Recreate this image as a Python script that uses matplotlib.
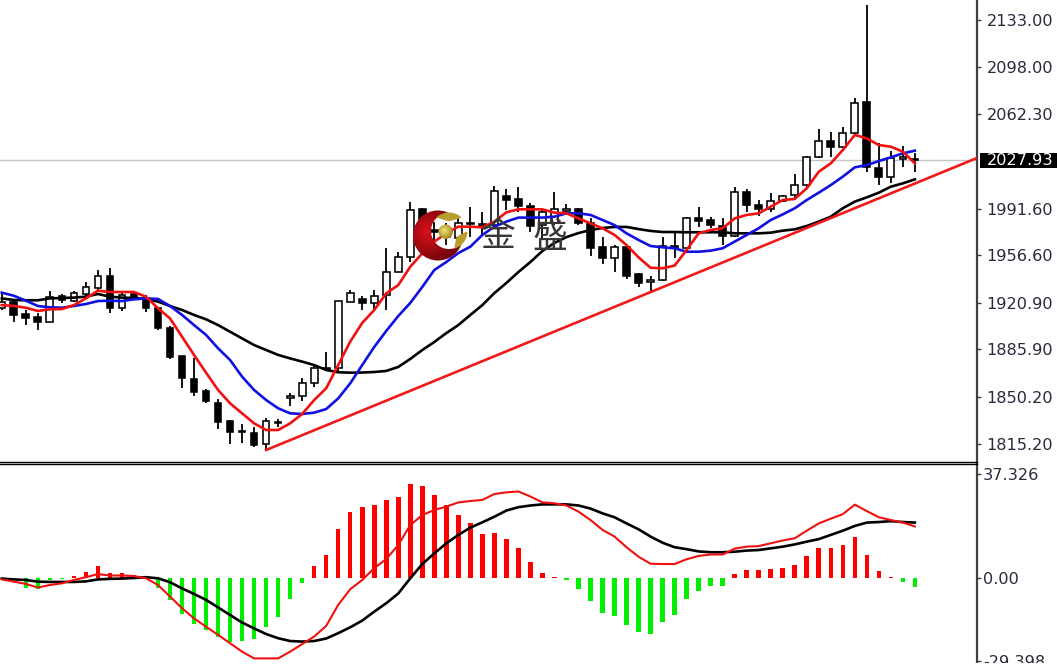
import numpy as np
import matplotlib
matplotlib.use("Agg")
import matplotlib.pyplot as plt
from matplotlib.patches import Rectangle

W, H = 1057, 669

highs = [1929.2,1923,1915.5,1913,1929.8,1927.2,1930,1936.8,1945.5,1946.8,1928,1928,1926.8,1918,1903.5,1881.2,1879.2,1856,1848.8,1833,
         1830,1827.5,1834.2,1833.8,1853.5,1864.2,1874.8,1884.2,1922.2,1930.5,1926,1930.5,1961.8,1958.8,1996.2,1991.8,1981.8,1980.5,1986.2,1993,
         1989.2,2008.8,2006,2007.5,1995.5,1990.5,2003.8,1994.8,1992.2,1984.2,1970.5,1964.2,1964.2,1943,1941,1970.5,1975,1985.5,1993,1985,
         1984.2,2007.5,2006,1998,2003,2001.8,2017.5,2031.2,2051.2,2049.2,2053,2074.2,2144.2,2040.5,2035,2038.8,2033]
lows = [1915.5,1906.8,1904.2,1900.5,1906.8,1921,1921.8,1925.5,1930.5,1913,1915,1923,1914.2,1900.5,1878.5,1857.2,1851.2,1845.5,1826,1814.8,
        1816,1812.5,1810.5,1828,1843.8,1847.5,1857.5,1870.5,1868,1921.8,1915.5,1915.5,1915.5,1944.2,1951.8,1973,1961.8,1964.2,1964.2,1970.5,
        1971.8,1978,1990.5,1989.2,1974.2,1968,1979.2,1986.8,1979.2,1956,1950,1944.2,1938.8,1932.5,1929.2,1937.5,1954.2,1958,1978,1977.2,
        1964.2,1970,1989.2,1986.2,1988.8,1996.2,1999.2,2006.8,2029.2,2030.5,2036.8,2046.8,2019.2,2009.2,2011,2023,2019.2]
opens = [1916.8,1921.8,1912.2,1910.5,1906.8,1926,1922.5,1927.5,1931.8,1941,1916.8,1927.2,1924.2,1916.8,1902.2,1881.2,1863.8,1854.8,1846,1832.2,
         1824.5,1823.5,1814.8,1831.2,1849.8,1851,1861,1872.2,1871.8,1921.8,1923.8,1920.5,1926.8,1944.2,1955,1991,1975.5,1973,1969.2,1980.5,
         1979.8,1979.2,2001,1998.5,1993.8,1979.2,1980.5,1990,1991.2,1981,1962.5,1954.8,1962.5,1942.2,1936.8,1938,1963.8,1961.8,1984.2,1983,
         1978.5,1971.2,2003.8,1994.2,1991.2,1997.2,2001.8,2009.2,2030,2042.5,2037.5,2048,2071.2,2021.8,2015,2029,2028.5]
closes = [1921.8,1911.8,1909.8,1906.8,1925.5,1923,1928,1932.5,1941,1916.8,1926.8,1923.8,1916.8,1901.8,1880.5,1864.2,1853.8,1847.5,1831.8,1824,
          1823.8,1814.2,1832.2,1830.8,1851,1861,1872.2,1871.5,1922.2,1928,1920.5,1926.2,1944.2,1955.5,1990.5,1980.5,1974.2,1970.5,1980.5,1979.8,
          1978.8,2005,1998,1993.5,1978.5,1989.2,1991.2,1991,1980.5,1962.2,1954.8,1963,1941.2,1935.5,1938,1963.5,1962.2,1984.2,1982.5,1979.2,
          1971.2,2003.8,1994.2,1991.2,1997.5,2001.2,2009.2,2030.5,2042.5,2037.5,2048,2070.5,2022.5,2015,2029.2,2030,2027.93]

ma_fast = [1919.2,1918.5,1917.2,1914.8,1916,1916.2,1919.2,1924.2,1930,1929,1929,1929,1925.5,1916.8,1909.2,1895.5,1881.8,1868.5,1855.5,1845.5,
           1838,1830.5,1825.5,1825.5,1830.5,1837.5,1848,1856.8,1874.2,1891.8,1905.8,1915.5,1928,1934.2,1948,1958,1966.8,1973,1978,1978,
           1977.5,1981.8,1988.8,1991,1991,1991,1988.5,1988,1984.2,1980.5,1976.8,1971.8,1964.2,1955,1947.2,1946.8,1948.8,1960.5,1973,1975.5,
           1976.8,1984.2,1986.8,1988,1993,1998,1998.8,2006.8,2019.2,2025.5,2035.5,2046.8,2044.2,2039.2,2038,2034.2,2025.5]
ma_mid = [1928.5,1926.2,1922.5,1918.5,1917.5,1917.2,1918.5,1920,1922.2,1922.5,1922.2,1923.5,1924.2,1923.8,1918.5,1911.8,1904.2,1896.8,1886.8,1878,
          1865.5,1855.5,1848,1841.8,1838,1837.5,1838.5,1841.2,1849.2,1860.5,1874.2,1887.8,1899.8,1911,1920.8,1932.8,1945.5,1951.5,1958.2,1963,
          1971.8,1978,1981.8,1984.8,1984.8,1984.8,1985.5,1988,1988,1986.8,1983,1979.2,1973,1968,1963.5,1962.5,1961.8,1959.2,1959.2,1960,
          1961.8,1966.8,1971.8,1976.8,1983,1987.2,1991.8,1998,2003.5,2009.2,2015.5,2022.5,2024.2,2027.2,2030,2033,2035]
ma_slow = [1924.2,1923,1922.8,1922.8,1924.2,1924.5,1924.8,1925.5,1927.5,1925.5,1924.8,1924.5,1923.8,1921.8,1918.5,1915.5,1911.8,1908.5,1904.2,1899.2,
           1894.2,1889.2,1885.5,1881.8,1879.2,1876.8,1874.2,1870.5,1868.8,1868.5,1868.6,1869,1869.8,1872.8,1878.8,1885.5,1891.5,1898.2,1904.2,1911.8,
           1919.2,1928.2,1935.8,1944,1951.5,1959.8,1965.8,1970.2,1973.2,1975.5,1977,1977.8,1977.8,1976.2,1974.8,1974,1974,1973.8,1973.8,1973.8,
           1973.8,1973,1973,1973,1973.5,1975,1976,1978.5,1981.8,1985.5,1991.8,1996.8,2000,2003.5,2008,2010.5,2013.5]

trend_x = [22, 81.17]
trend_y = [1810.5, 2029.5]

macd_hist = [-0.4,-0.6,-3.3,-3.9,-0.6,-0.4,1.0,2.4,4.4,2.0,2.0,1.2,0.4,-3.3,-7.9,-12.7,-16.4,-18.5,-21.1,-22.6,
             -22.3,-21.7,-17.4,-13.7,-7.5,-1.8,4.4,8.3,17.5,23.7,25.4,26,28.1,29.2,33.7,33,29.8,26.2,22.6,19.6,
             15.8,16.1,14,11,5.8,2,0.6,-0.6,-3.7,-8.1,-12.3,-13.3,-16.7,-19.2,-19.8,-15.7,-13.1,-7.5,-4.4,-2.7,
             -2.7,1.5,3,3,3.3,3.7,4.8,7.9,11,11,11.9,14.6,8.5,2.6,0.6,-1.2,-3.1]
macd_fast = [-0.4,-1.2,-2,-3.3,-2.4,-1.8,-0.6,0.4,1.5,1,1,0.8,0,-2.4,-6.5,-10.7,-14.3,-17.3,-20.2,-23.2,
             -26.2,-28.6,-28.6,-28.6,-26.2,-23.5,-20.8,-17,-9.5,-3.9,-0.6,3.6,6.9,11.9,19,22.6,24.4,25.6,27.1,27.6,
             28,30.1,30.7,31,29.2,27.1,26.8,26,23.8,20.8,17.3,14.9,11.1,7.7,5.2,5.1,5.1,6.8,8,8.5,
             8.5,10.6,11.3,11.5,12.5,13.5,14.3,17,19.6,21.3,22.9,26.3,24,21.8,20.8,19.9,18.5]
macd_slow = [-0.1,-0.4,-0.6,-1.2,-1.3,-1.3,-1.3,-1.1,-0.4,-0.2,-0.1,0.1,0.4,0,-1.4,-3.6,-5.6,-7.7,-10.4,-13.1,
             -15.8,-17.9,-19.9,-21.4,-22.4,-22.6,-22.4,-21.5,-19.6,-17.5,-15.1,-11.9,-8.9,-5.4,0,5.1,8.9,12.5,15.5,18.1,
             20,22,24.2,25.4,26,26.4,26.4,26.4,26,24.9,23.2,21.8,19.6,17.5,14.9,12.7,11.1,10.4,9.6,9.3,
             9.3,9.5,9.9,10.1,10.7,11.3,12.1,13.1,14,15.5,17,18.7,19.9,20.1,20.4,20.1,19.9]

price_ticks = [2133.00,2098.00,2062.30,1991.60,1956.60,1920.90,1885.90,1850.20,1815.20]
price_labels = ["2133.00","2098.00","2062.30","1991.60","1956.60","1920.90","1885.90","1850.20","1815.20"]
last_price = 2027.93
macd_ticks = [37.326, 0.0, -29.398]
macd_labels = ["37.326", "0.00", "-29.398"]
brand_chars = ["金", "盛"]

TEXT = "#2a2a3a"
FS = 11.6

fig = plt.figure(figsize=(W / 100, H / 100), dpi=100, facecolor="white")


def pane(top, bottom):
    ax = fig.add_axes([0, 1 - bottom / H, 977 / W, (bottom - top) / H])
    ax.set_xlim(-0.15, 81.17)
    for s in ("top", "left", "bottom"):
        ax.spines[s].set_visible(False)
    ax.spines["right"].set_color("#404040")
    ax.spines["right"].set_linewidth(1.6)
    ax.set_xticks([])
    ax.yaxis.tick_right()
    return ax


# ---------- price pane
ax = pane(0, 462)
ax.set_ylim(1801.5, 2148)
x = np.arange(len(closes))
o, c = np.array(opens), np.array(closes)
up = c > o
ax.vlines(x, lows, highs, color="black", lw=1.3, zorder=2)
ax.bar(x[up], (c - o)[up], bottom=o[up], width=0.56, facecolor="white", edgecolor="black", lw=1.15, zorder=3)
ax.bar(x[~up], (o - c)[~up], bottom=c[~up], width=0.56, facecolor="black", edgecolor="black", lw=1.15, zorder=3)
ax.axhline(last_price, color="#c4c4c4", lw=1, zorder=1)
ax.plot(x, ma_slow, color="black", lw=1.9, zorder=4)
ax.plot(x, ma_mid, color="#1010e0", lw=1.9, zorder=5)
ax.plot(x, ma_fast, color="#f01010", lw=1.9, zorder=6)
ax.plot(trend_x, trend_y, color="#f01818", lw=1.9, zorder=6)
ax.set_yticks(price_ticks)
ax.set_yticklabels(price_labels, fontsize=FS, color=TEXT)
ax.tick_params(axis="y", length=3, width=1, color="#404040", pad=4)

# ---------- MACD pane
ax2 = pane(464, 662)
ax2.set_ylim((578.3 - 662) / 2.8, (578.3 - 464) / 2.8)
hist = np.array(macd_hist)
ax2.bar(x, hist, width=0.38, color=np.where(hist >= 0, "#ff0000", "#00ee00"), zorder=2)
ax2.plot(x, macd_slow, color="black", lw=1.9, zorder=3)
ax2.plot(x, macd_fast, color="#f01010", lw=1.5, zorder=4)
ax2.set_yticks(macd_ticks)
ax2.set_yticklabels(macd_labels, fontsize=FS, color=TEXT)
ax2.tick_params(axis="y", length=3, width=1, color="#404040", pad=1.5)

# last price tag
fig.add_artist(Rectangle((980 / W, 1 - 168 / H), 77 / W, 15 / H, transform=fig.transFigure,
                         facecolor="black", edgecolor="none", zorder=12))
fig.text(987 / W, 1 - 160.5 / H, "2027.93", fontsize=FS, color="white", ha="left", va="center", zorder=13)

# separators
for yy in (461.7, 464):
    fig.add_artist(plt.Line2D([0, 977 / W], [1 - yy / H] * 2, color="black", lw=1, transform=fig.transFigure, zorder=10))

# white strip that cuts the last label as in the reference
fig.add_artist(Rectangle((0, 0), 1, 6.5 / H, transform=fig.transFigure, facecolor="white", edgecolor="none", zorder=20))


# ---------- logo
def logo():
    ss = 4
    x0, y0, w, h = 410, 205, 60, 60
    yy, xx = np.mgrid[0:h * ss, 0:w * ss]
    px = x0 + (xx + 0.5) / ss
    py = y0 + (yy + 0.5) / ss
    img = np.zeros((h * ss, w * ss, 4))

    r_out = np.hypot(px - 438, py - 235.5)
    r_in = np.hypot(px - 449, py - 231)
    cres = (r_out <= 25) & (r_in > 18)
    g = np.clip(np.hypot(px - 428, py - 232) / 30, 0, 1)[..., None]
    col = (1 - g) * np.array([0.86, 0.06, 0.10]) + g * np.array([0.46, 0.02, 0.04])
    img[cres, :3] = col[cres]
    img[cres, 3] = 1

    ang = np.degrees(np.arctan2(py - 231, px - 449))
    for a0, a1 in ((-132, -48), (2, 72)):
        t = np.clip((ang - a0) / (a1 - a0), 0, 1)
        thick = 8.5 * np.sin(np.pi * t) ** 0.6
        arc = (ang > a0) & (ang < a1) & (r_in < 18.5) & (r_in > 18.5 - thick)
        img[arc, :3] = (0.72, 0.62, 0.18)
        img[arc, 3] = 1

    r_b = np.hypot(px - 445.7, py - 231.7)
    ball = r_b <= 7.2
    g = np.clip(np.hypot(px - 444.5, py - 230.5) / 8, 0, 1)[..., None]
    col = (1 - g) * np.array([0.93, 0.90, 0.50]) + g * np.array([0.66, 0.55, 0.12])
    img[ball, :3] = col[ball]
    img[ball, 3] = 1

    a = img[..., 3:]
    pre = (img[..., :3] * a).reshape(h, ss, w, ss, 3).mean(axis=(1, 3))
    al = a.reshape(h, ss, w, ss, 1).mean(axis=(1, 3))
    rgb = np.where(al > 0, pre / np.maximum(al, 1e-6), 1.0)
    fig.figimage(np.dstack([rgb, al]), xo=x0, yo=H - (y0 + h), origin="upper", zorder=8)


logo()
for ch, cx in zip(brand_chars, (498, 550)):
    fig.text(cx / W, 1 - 237 / H, ch, family=["Noto Sans CJK SC", "DejaVu Sans"], fontsize=25,
             color="#3a3636", ha="center", va="center", zorder=9)

fig.savefig("out.png", dpi=100)
